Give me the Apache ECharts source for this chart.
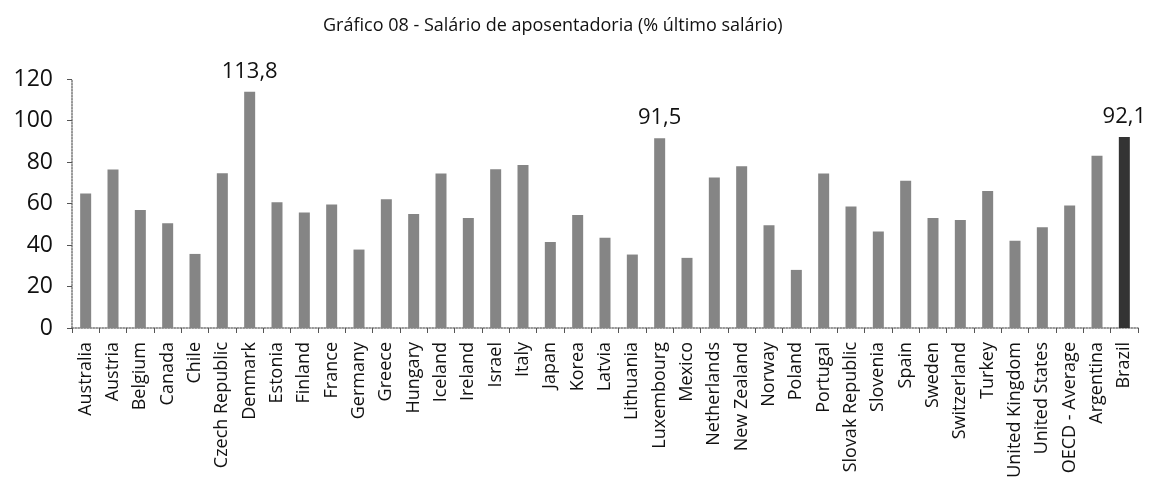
<!DOCTYPE html>
<html><head><meta charset="utf-8">
<script src="https://cdn.jsdelivr.net/npm/echarts@6/dist/echarts.min.js"></script>
<style>html,body{margin:0;padding:0;background:#fff}#c{width:1153px;height:483px}</style>
</head><body><div id="c"></div>
<script>
const titleText = 'Gráfico 08 - Salário de aposentadoria (% último salário)';
const categories = ['Australia','Austria','Belgium','Canada','Chile','Czech Republic','Denmark','Estonia','Finland','France','Germany','Greece','Hungary','Iceland','Ireland','Israel','Italy','Japan','Korea','Latvia','Lithuania','Luxembourg','Mexico','Netherlands','New Zealand','Norway','Poland','Portugal','Slovak Republic','Slovenia','Spain','Sweden','Switzerland','Turkey','United Kingdom','United States','OECD - Average','Argentina','Brazil'];
const values = [64.8,76.4,56.9,50.5,35.7,74.6,113.8,60.6,55.7,59.5,37.8,62.1,55.0,74.5,53.0,76.5,78.5,41.5,54.5,43.5,35.4,91.5,33.8,72.5,78.0,49.5,28.0,74.5,58.5,46.5,71.0,53.0,52.0,66.0,42.0,48.5,59.0,83.0,92.1];
const labeled = ['Denmark','Luxembourg','Brazil'];
const yTicks = [0,20,40,60,80,100,120];

const chart = echarts.init(document.getElementById('c'));
chart.setOption({
  animation:false,
  title:{text:titleText,left:318,top:12,textStyle:{fontFamily:'Open Sans',fontSize:18,fontWeight:'normal',color:'#111'}},
  grid:{left:72,right:15,top:79,bottom:155},
  xAxis:{type:'category',data:categories,boundaryGap:true,
    axisLine:{lineStyle:{color:'#777',type:'dotted',width:1.5}},
    axisTick:{show:true,alignWithLabel:false,length:5,lineStyle:{color:'#555'}},
    axisLabel:{rotate:90,interval:0,fontFamily:'Open Sans',fontSize:18,color:'#111',margin:14}},
  yAxis:{type:'value',min:yTicks[0],max:yTicks[yTicks.length-1],interval:20,
    splitLine:{show:false},
    axisLine:{show:true,lineStyle:{color:'#777',type:'dotted',width:1.5}},
    axisTick:{show:true,length:5,lineStyle:{color:'#555'}},
    axisLabel:{fontFamily:'Open Sans',fontSize:23,color:'#111',margin:19}},
  series:[{type:'bar',barWidth:11,
    data:values.map((v,i)=>({value:v,
      itemStyle:{color:categories[i]==='Brazil'?'#333333':'#858585'},
      label:{show:labeled.includes(categories[i]),position:'top',distance:9,
        formatter:(p)=>String(p.value).replace('.',','),
        fontFamily:'Open Sans',fontSize:22,color:'#111'}}))}]
});
</script></body></html>
